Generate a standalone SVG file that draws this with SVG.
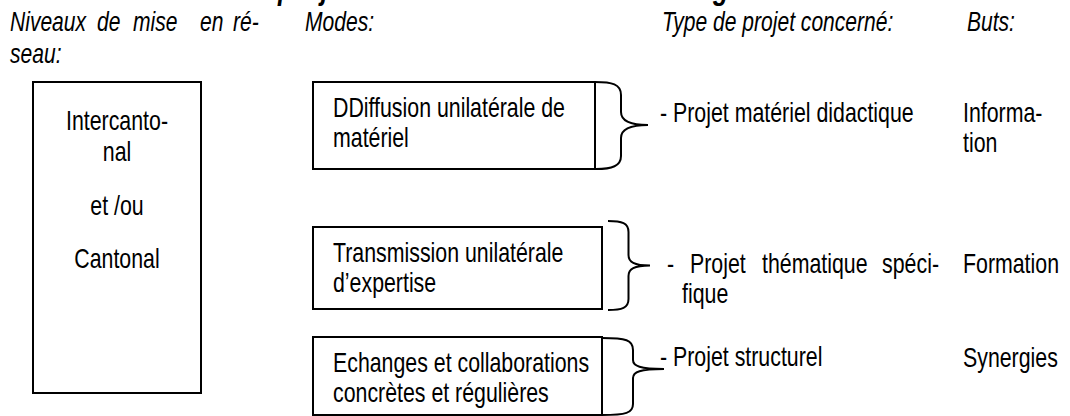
<svg xmlns="http://www.w3.org/2000/svg" width="1070" height="416" viewBox="0 0 1070 416">
<style>
text{font-family:"Liberation Sans",Arial,sans-serif;font-size:27px;fill:#000}
.i{font-style:italic}
.ti{font-weight:bold;font-style:italic;font-size:32px}
.m{text-anchor:middle}
.box{fill:#fff;stroke:#000;stroke-width:2}
.br{fill:none;stroke:#000;stroke-width:2}
</style>
<rect width="1070" height="416" fill="#fff"/>
<g id="title">
<text class="ti" transform="matrix(.79 0 0 1 278 -1)">p</text>
<text class="ti" transform="matrix(.79 0 0 1 321 -1)">j</text>
<text class="ti" transform="matrix(.79 0 0 1 713 -1)">g</text>
</g>
<g id="headers">
<text class="i" transform="matrix(.78 0 0 1 10 31)">Niveaux</text>
<text class="i" transform="matrix(.78 0 0 1 97 31)">de</text>
<text class="i" transform="matrix(.78 0 0 1 133 31)">mise</text>
<text class="i" transform="matrix(.78 0 0 1 200 31)">en</text>
<text class="i" transform="matrix(.78 0 0 1 233 31)">ré-</text>
<text class="i" transform="matrix(.78 0 0 1 10 63)">seau:</text>
<text class="i" transform="matrix(.78 0 0 1 305 31)">Modes:</text>
<text class="i" transform="matrix(.78 0 0 1 662 31)">Type de projet concerné:</text>
<text class="i" transform="matrix(.78 0 0 1 967 31)">Buts:</text>
</g>
<g id="level">
<rect class="box" x="33" y="82" width="168" height="311"/>
<text class="m" transform="matrix(.79 0 0 1 117 130)">Intercanto-</text>
<text class="m" transform="matrix(.79 0 0 1 117 161)">nal</text>
<text class="m" transform="matrix(.79 0 0 1 117 215)">et /ou</text>
<text class="m" transform="matrix(.79 0 0 1 117 268)">Cantonal</text>
</g>
<g id="mode-diffusion">
<rect class="box" x="313" y="82" width="282" height="87"/>
<text transform="matrix(.79 0 0 1 333 117)">DDiffusion unilatérale de</text>
<text transform="matrix(.79 0 0 1 333 147)">matériel</text>
</g>
<g id="mode-transmission">
<rect class="box" x="313" y="227" width="289" height="82"/>
<text transform="matrix(.79 0 0 1 333 262)">Transmission unilatérale</text>
<text transform="matrix(.79 0 0 1 333 292)">d’expertise</text>
</g>
<g id="mode-echanges">
<rect class="box" x="313" y="337" width="289" height="78"/>
<text transform="matrix(.79 0 0 1 333 372)">Echanges et collaborations</text>
<text transform="matrix(.79 0 0 1 333 402)">concrètes et régulières</text>
</g>
<g id="connectors">
<path class="br" d="M595,82 C612,82 621,84 621,95 L621,112 C621,121 630,125 648,125 C630,125 621,129 621,138 L621,156 C621,166 612,169 596,169"/>
<path class="br" d="M608,221 C622,221 628.5,223 628.5,232 L628.5,255 C628.5,262 634,265.5 650,265.5 C634,265.5 628.5,269 628.5,276 L628.5,299 C628.5,308 622,310 608,310"/>
<path class="br" d="M602,338 C626,338 633,340 633,350 L633,360 C633,366 640,369 664,369 C640,369 633,372 633,378 L633,404 C633,413 626,415 602,415"/>
</g>
<g id="type-didactique">
<text transform="matrix(.79 0 0 1 660 122)">- Projet matériel didactique</text>
</g>
<g id="type-thematique">
<text transform="matrix(.79 0 0 1 667 273)">-</text>
<text transform="matrix(.79 0 0 1 690 273)">Projet</text>
<text transform="matrix(.79 0 0 1 762 273)">thématique</text>
<text style="text-anchor:end" transform="matrix(.79 0 0 1 939 273)">spéci-</text>
<text transform="matrix(.79 0 0 1 682 303)">fique</text>
</g>
<g id="type-structurel">
<text transform="matrix(.79 0 0 1 660 366)">- Projet structurel</text>
</g>
<g id="goal-information">
<text transform="matrix(.79 0 0 1 963 122)">Informa-</text>
<text transform="matrix(.79 0 0 1 963 152)">tion</text>
</g>
<g id="goal-formation">
<text transform="matrix(.79 0 0 1 963 273)">Formation</text>
</g>
<g id="goal-synergies">
<text transform="matrix(.79 0 0 1 963 367)">Synergies</text>
</g>
</svg>
